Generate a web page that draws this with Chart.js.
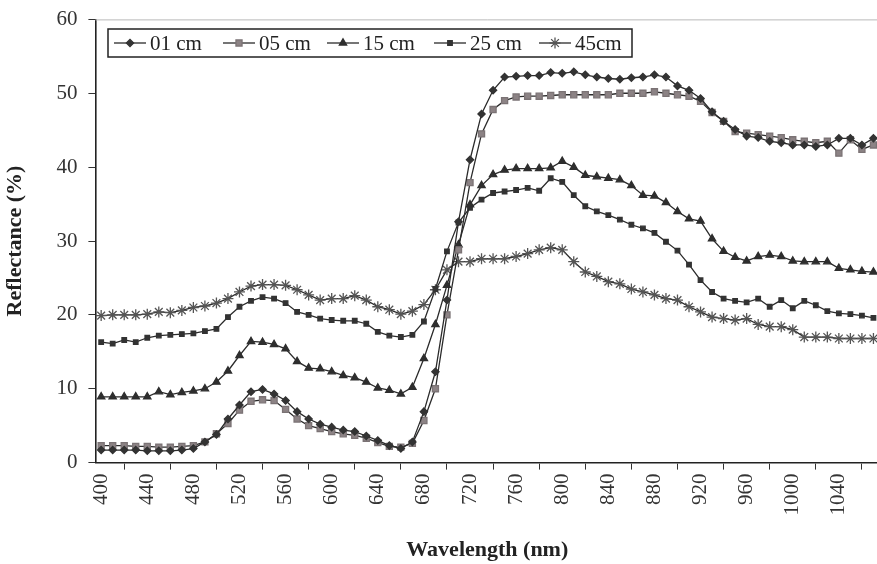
<!DOCTYPE html>
<html>
<head>
<meta charset="utf-8">
<title>Reflectance by depth</title>
<script src="https://cdn.jsdelivr.net/npm/chart.js@4.4.1/dist/chart.umd.min.js"></script>
<style>
    html, body { margin: 0; padding: 0; background: #fff; overflow: hidden; }
    #wrap { width: 886px; height: 564px; position: relative; }
</style>
</head>
<body>
<div id="wrap"><canvas id="spectra-chart"></canvas></div>
<script>
// wavelengths (nm), one category every 10 nm
const wavelengths = [400, 410, 420, 430, 440, 450, 460, 470, 480, 490,
    500, 510, 520, 530, 540, 550, 560, 570, 580, 590,
    600, 610, 620, 630, 640, 650, 660, 670, 680, 690,
    700, 710, 720, 730, 740, 750, 760, 770, 780, 790,
    800, 810, 820, 830, 840, 850, 860, 870, 880, 890,
    900, 910, 920, 930, 940, 950, 960, 970, 980, 990,
    1000, 1010, 1020, 1030, 1040, 1050, 1060, 1070];

const depthLabels = ['01 cm', '05 cm', '15 cm', '25 cm', '45cm'];

const refl01 = [1.7, 1.7, 1.7, 1.7, 1.6, 1.6, 1.6, 1.7, 1.9, 2.8,
    3.8, 5.9, 7.8, 9.6, 9.9, 9.3, 8.4, 6.9, 5.9, 5.2,
    4.8, 4.4, 4.2, 3.6, 3.0, 2.3, 1.9, 2.8, 6.9, 12.3,
    22.0, 32.6, 41.0, 47.2, 50.4, 52.2, 52.3, 52.4, 52.4, 52.8,
    52.7, 52.9, 52.5, 52.2, 52.0, 51.9, 52.1, 52.2, 52.5, 52.2,
    51.0, 50.4, 49.3, 47.5, 46.2, 45.1, 44.2, 44.0, 43.5, 43.3,
    43.0, 43.0, 42.8, 43.0, 43.9, 43.9, 43.0, 43.9];

const refl05 = [2.3, 2.3, 2.3, 2.2, 2.2, 2.1, 2.1, 2.2, 2.3, 2.8,
    3.9, 5.3, 7.1, 8.3, 8.5, 8.4, 7.2, 5.9, 5.0, 4.6,
    4.2, 3.9, 3.7, 3.3, 2.7, 2.2, 2.1, 2.6, 5.7, 10.0,
    20.0, 28.8, 37.9, 44.5, 47.8, 49.0, 49.5, 49.6, 49.6, 49.7,
    49.8, 49.8, 49.8, 49.8, 49.8, 50.0, 50.0, 50.0, 50.2, 50.0,
    49.8, 49.6, 48.9, 47.4, 46.2, 44.8, 44.6, 44.4, 44.2, 44.0,
    43.7, 43.5, 43.3, 43.5, 41.9, 43.7, 42.4, 43.0];

const refl15 = [8.9, 8.9, 8.9, 8.9, 8.9, 9.6, 9.2, 9.5, 9.7, 10.0,
    10.9, 12.4, 14.5, 16.4, 16.3, 16.0, 15.4, 13.7, 12.8, 12.7,
    12.3, 11.8, 11.5, 10.9, 10.1, 9.8, 9.3, 10.2, 14.1, 18.7,
    24.0, 29.5, 34.9, 37.5, 39.0, 39.6, 39.8, 39.8, 39.8, 39.9,
    40.8, 40.0, 38.9, 38.7, 38.5, 38.3, 37.5, 36.2, 36.1, 35.2,
    34.0, 33.0, 32.7, 30.3, 28.6, 27.8, 27.3, 27.9, 28.1, 27.9,
    27.3, 27.2, 27.2, 27.2, 26.3, 26.1, 25.9, 25.8];

const refl25 = [16.3, 16.1, 16.6, 16.3, 16.9, 17.2, 17.3, 17.4, 17.5, 17.8,
    18.1, 19.7, 21.1, 21.9, 22.4, 22.2, 21.6, 20.4, 20.0, 19.5,
    19.3, 19.2, 19.2, 18.8, 17.7, 17.2, 17.0, 17.3, 19.1, 23.5,
    28.6, 32.5, 34.5, 35.6, 36.5, 36.7, 36.9, 37.2, 36.8, 38.5,
    38.0, 36.2, 34.7, 34.0, 33.5, 32.9, 32.2, 31.7, 31.1, 29.9,
    28.7, 26.8, 24.7, 23.1, 22.2, 21.9, 21.7, 22.2, 21.1, 22.0,
    20.9, 21.9, 21.3, 20.5, 20.2, 20.1, 19.9, 19.6];

const refl45 = [19.9, 20.0, 20.0, 20.0, 20.1, 20.4, 20.3, 20.6, 21.0, 21.2,
    21.6, 22.2, 23.1, 23.9, 24.1, 24.1, 24.0, 23.4, 22.7, 22.0,
    22.2, 22.2, 22.6, 22.0, 21.1, 20.7, 20.1, 20.5, 21.4, 23.4,
    26.1, 27.2, 27.2, 27.6, 27.6, 27.6, 27.9, 28.3, 28.8, 29.1,
    28.8, 27.2, 25.8, 25.2, 24.5, 24.2, 23.5, 23.1, 22.7, 22.2,
    22.0, 21.1, 20.4, 19.7, 19.5, 19.3, 19.5, 18.7, 18.4, 18.4,
    18.0, 17.0, 17.0, 17.0, 16.8, 16.8, 16.8, 16.8];

const yTicks = [0, 10, 20, 30, 40, 50, 60];

const serif = "'Liberation Serif', 'Times New Roman', serif";
const ink = '#2b2b2b';

const seriesStyle = [
    { pointStyle: 'rectRot', pointRadius: 3.6, pointBackgroundColor: '#333', pointBorderColor: '#333' },
    { pointStyle: 'rect', pointRadius: 4.3, pointBackgroundColor: '#8c8385', pointBorderColor: '#7b7375' },
    { pointStyle: 'triangle', pointRadius: 4.2, pointBackgroundColor: '#2e2e2e', pointBorderColor: '#2e2e2e' },
    { pointStyle: 'rect', pointRadius: 3.2, pointBackgroundColor: '#333', pointBorderColor: '#333' },
    { pointStyle: 'star', pointRadius: 5.5, pointBackgroundColor: '#555', pointBorderColor: '#555', pointBorderWidth: 1.3 },
];

const seriesData = [refl01, refl05, refl15, refl25, refl45];

// boxed legend with a line + marker sample for every series
const boxLegend = {
    id: 'boxLegend',
    afterDraw(chart) {
        const ctx = chart.ctx;
        const box = { x: 108, y: 29, w: 524, h: 28 };
        const starts = [114, 223, 327, 434, 539];
        ctx.save();
        ctx.fillStyle = '#fff';
        ctx.fillRect(box.x, box.y, box.w, box.h);
        ctx.strokeStyle = '#222';
        ctx.lineWidth = 1.5;
        ctx.strokeRect(box.x, box.y, box.w, box.h);
        const cy = box.y + box.h / 2;
        chart.data.datasets.forEach((ds, i) => {
            const x0 = starts[i];
            ctx.strokeStyle = ink;
            ctx.lineWidth = 1.3;
            ctx.beginPath();
            ctx.moveTo(x0, cy);
            ctx.lineTo(x0 + 32, cy);
            ctx.stroke();
            ctx.fillStyle = ds.pointBackgroundColor;
            ctx.strokeStyle = ds.pointBorderColor;
            Chart.helpers.drawPoint(ctx, {
                pointStyle: ds.pointStyle,
                radius: ds.pointRadius,
                rotation: 0,
                borderWidth: ds.pointBorderWidth || 1,
            }, x0 + 16, cy);
            ctx.fillStyle = '#222';
            ctx.font = '21px ' + serif;
            ctx.textBaseline = 'middle';
            ctx.textAlign = 'left';
            ctx.fillText(ds.label, x0 + 36, cy + 1);
        });
        ctx.restore();
    }
};

// thin top frame line
const topFrame = {
    id: 'topFrame',
    beforeDatasetsDraw(chart) {
        const { ctx, chartArea } = chart;
        ctx.save();
        ctx.strokeStyle = '#b9b9b9';
        ctx.lineWidth = 1;
        ctx.beginPath();
        ctx.moveTo(chartArea.left, chartArea.top + 0.5);
        ctx.lineTo(chartArea.right, chartArea.top + 0.5);
        ctx.stroke();
        ctx.restore();
    }
};

const drawSpectraChart = () => {
    return new Chart(document.getElementById('spectra-chart').getContext('2d'), {
        type: 'line',
        data: {
            labels: wavelengths.map(String),
            datasets: seriesData.map((values, i) => Object.assign({
                label: depthLabels[i],
                data: values,
                borderColor: ink,
                borderWidth: 1.3,
                tension: 0,
                fill: false,
            }, seriesStyle[i])),
        },
        options: {
            responsive: true,
            maintainAspectRatio: false,
            animation: false,
            devicePixelRatio: 1,
            layout: { padding: { top: 0, left: 2, right: 0, bottom: 0 } },
            plugins: {
                legend: { display: false },
                tooltip: { enabled: false },
            },
            scales: {
                x: {
                    type: 'category',
                    offset: true,
                    grid: {
                        offset: true,
                        drawOnChartArea: false,
                        drawTicks: true,
                        tickLength: 7,
                        color: '#333',
                    },
                    border: { display: true, color: '#222', width: 1.6 },
                    ticks: {
                        autoSkip: false,
                        maxRotation: 90,
                        minRotation: 90,
                        padding: 4,
                        color: '#333',
                        font: { family: serif, size: 21 },
                        callback: function (value, index) {
                            return index % 4 === 0 ? this.getLabelForValue(value) : null;
                        },
                    },
                    title: {
                        display: true,
                        text: 'Wavelength (nm)',
                        color: '#222',
                        font: { family: serif, size: 22, weight: 'bold' },
                        padding: { top: 18, bottom: 0 },
                    },
                },
                y: {
                    min: yTicks[0],
                    max: yTicks[yTicks.length - 1],
                    afterBuildTicks: (axis) => {
                        axis.ticks = yTicks.map(v => ({ value: v }));
                    },
                    grid: {
                        drawOnChartArea: false,
                        drawTicks: true,
                        tickLength: 7,
                        color: '#333',
                    },
                    border: { display: true, color: '#222', width: 1.6 },
                    ticks: {
                        padding: 11,
                        color: '#333',
                        font: { family: serif, size: 21, lineHeight: 0.8 },
                    },
                    title: {
                        display: true,
                        text: 'Reflectance (%)',
                        color: '#222',
                        font: { family: serif, size: 22, weight: 'bold' },
                        padding: { top: 0, bottom: 17 },
                    },
                },
            },
        },
        plugins: [topFrame, boxLegend],
    });
};

const spectraChart = drawSpectraChart();
</script>
</body>
</html>
